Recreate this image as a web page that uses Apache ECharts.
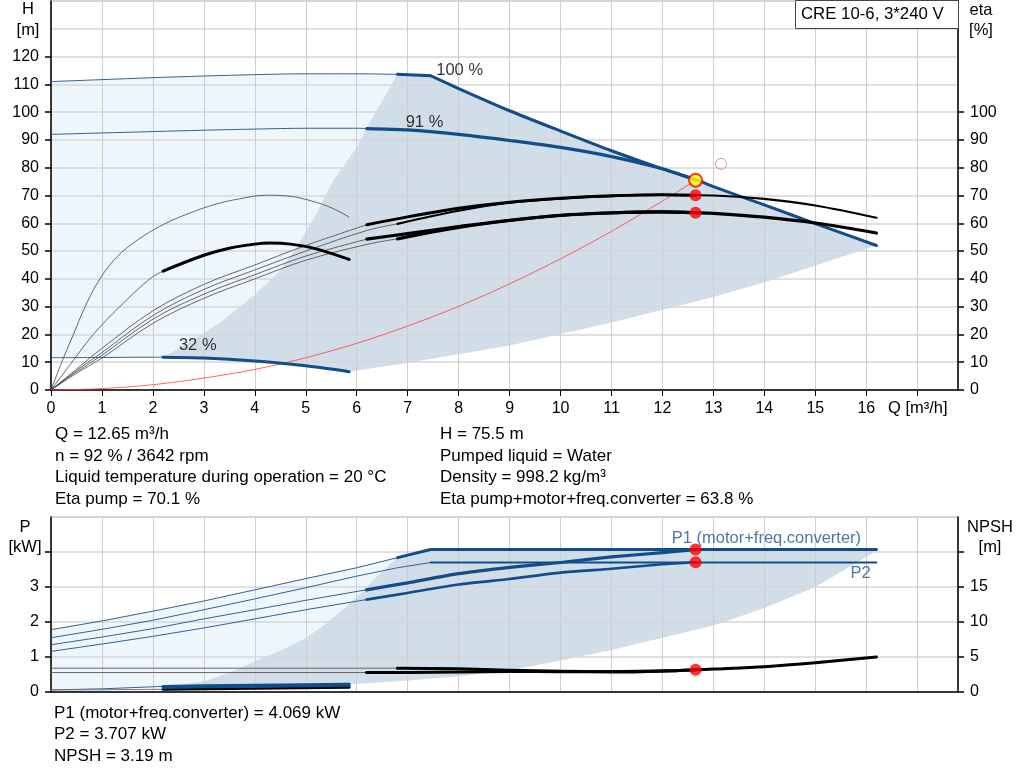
<!DOCTYPE html>
<html>
<head>
<meta charset="utf-8">
<script src="https://cdn.jsdelivr.net/npm/echarts@6/dist/echarts.min.js"></script>
<style>
html,body{margin:0;padding:0;background:#fff;}
#chart{width:1024px;height:781px;}
</style>
</head>
<body>
<div id="chart"></div>
<script>
// ---------------- data ----------------
const qTickLabels = [0,1,2,3,4,5,6,7,8,9,10,11,12,13,14,15,16];
const qTickMarks = [0,1,2,3,4,5,6,7,8,9,10,11,12,13,14,15,16,17];
const hTicks = [0,10,20,30,40,50,60,70,80,90,100,110,120];
const etaTicks = [0,10,20,30,40,50,60,70,80,90,100];
const pTickLabels = [0,1,2,3];
const pTickMarks = [0,1,2,3,4];
const npshTickLabels = [0,5,10,15];
const npshTickMarks = [0,5,10,15,20];

// Q-H curves
const q100 = [0,1,2,3,4,5,6,6.8,7.45,8,9,10,11,12,12.65,13,14,15,16.2];
const h100 = [111,111.7,112.4,113,113.5,113.8,113.8,113.6,113.1,108.5,100.5,93.2,86.1,79.6,75.8,73.2,66.6,59.9,52];
const q91 = [0,1,2,3,4,5,6,6.2,7,8,9,10,11,12,12.65];
const h91 = [92,92.5,93,93.5,93.9,94.2,94.2,94.1,93.6,92,89.8,87.3,84,79.6,75.5];
const q32 = [0,1,2,2.2,3,4,5,5.85];
const h32 = [11.6,11.7,11.8,11.8,11.5,10.4,8.7,6.6];

// efficiency curves (eta, %)
const qEtaPump32 = [0,0.21,0.44,0.67,0.96,1.3,1.7,2.2,2.7,3.2,3.7,4.25,4.6,5,5.5,5.85];
const etaPump32 = [0,10,20,30,40,48,54,59.5,63.5,66.7,68.8,70.1,69.9,68.6,65.6,62.2];
const qEtaTot32 = [0,0.41,0.83,1.35,1.94,2.2,3,3.5,4,4.3,4.7,5.2,5.85];
const etaTot32 = [0,10,20,30,40,42.8,48.5,51,52.5,52.9,52.5,50.8,47];
const qEtaPump91 = [0,0.5,1,2,3,4,5,6.2,7,8,9,10,11,12,12.65];
const etaPump91 = [0,7.5,15,28.5,38,45,52,59.5,62.3,65.4,67.6,69,69.9,70.3,70.1];
const qEtaPump100 = [0,0.5,1,2,3,4,5,6.2,6.8,8,9,10,11,12,12.65,13,14,15,16.2];
const etaPump100 = [0,7,13.5,26.8,36.2,43.2,50,57.4,59.8,64.5,67.4,68.9,69.8,70.2,70.1,70,68.8,66.4,62];
const qEtaTot91 = [0,0.5,1,2,3,4,5,6.2,7,8,9,10,11,12,12.65];
const etaTot91 = [0,6.5,12.5,25.5,34.5,41.5,48.2,54.3,56.3,58.8,61.1,62.9,63.8,64.1,63.8];
const qEtaTot100 = [0,0.5,1,2,3,4,5,6.2,6.8,8,9,10,11,12,12.65,13,14,15,16.2];
const etaTot100 = [0,6,11.5,24,33,40,46.7,52.4,54.4,58.5,61,62.8,63.7,64.1,63.8,63.6,62.2,60.1,56.5];

// system curve
const qSys = [0,1,2,3,4,5,6,7,8,9,10,11,12,12.65];
const hSys = [0,0.5,1.9,4.3,7.4,11.6,16.8,23,30.1,38.2,47.2,57.1,68,75.5];

// operating range (top chart)
const qRangeLeft = [2.2,2.8,3.38,4.03,4.5,4.82,5.21,5.54,6.0,6.19,6.5,6.8];
const hRangeLeft = [11.8,18,25.1,34.7,43,51.4,63.4,75.4,87.3,94.1,104,113.6];
const qRangeBottom = [5.85,7,9,11,13,14,15,16.2];
const hRangeBottom = [6.6,9.8,16,24.3,33.5,38.8,44.8,52];

// duty point
const dutyQ = 12.65;
const dutyH = 75.5;
const dutyEtaPump = 70.1;
const dutyEtaTot = 63.8;
const dutyP1 = 4.069;
const dutyP2 = 3.707;
const dutyNPSH = 3.19;
const refPoint = [13.15, 81.4];

// power curves (kW)
const qP100 = [0,1,2,3,4,5,6,6.8,7.45,9,11,13,15,16.2];
const p1_100 = [1.78,2.03,2.31,2.6,2.92,3.24,3.55,3.84,4.07,4.07,4.07,4.07,4.07,4.07];
const p2_100 = [1.55,1.79,2.05,2.35,2.66,2.98,3.31,3.55,3.70,3.70,3.70,3.70,3.70,3.70];
const qP91 = [0,1,2,3,4,5,6.19,7,8,9,10,11,12,12.65];
const p1_91 = [1.35,1.57,1.81,2.09,2.35,2.62,2.92,3.12,3.38,3.56,3.7,3.86,3.98,4.069];
const p2_91 = [1.16,1.37,1.59,1.83,2.09,2.35,2.64,2.83,3.07,3.23,3.41,3.52,3.65,3.707];
const qP32 = [0,1,2.2,3,4,5,5.85];
const p1_32 = [0.06,0.09,0.16,0.18,0.19,0.21,0.22];
const p2_32 = [0.05,0.07,0.13,0.15,0.16,0.18,0.19];

// operating range (power chart)
const qPRangeLeft = [2.2,3,3.5,4,4.5,5,5.4,5.8,6.1,6.4,6.8];
const pPRangeLeft = [0.16,0.3,0.55,0.87,1.18,1.54,1.95,2.45,2.85,3.3,3.84];
const qPRangeBottom = [5.85,7,8,9,10,11,12,13,14,15,16.2];
const pPRangeBottom = [0.22,0.33,0.45,0.62,0.9,1.2,1.55,1.9,2.4,3.0,4.03];

// NPSH curves (m)
const qN100 = [0,2,4,6.8,8,9,10,11,12,12.65,13,14,15,16.2];
const n100 = [3.4,3.4,3.4,3.4,3.32,3.12,2.98,2.92,3.02,3.17,3.28,3.62,4.18,5.0];
const qN91 = [0,2,4,6.19,7,8,9,10,11,12,12.65];
const n91 = [2.78,2.78,2.78,2.78,2.8,2.85,2.92,2.9,2.86,2.98,3.19];
const qN32 = [0,1,2.2,4,5.85];
const n32 = [0.3,0.32,0.39,0.52,0.67];

// curve labels
const headLabels = [[8.02,115.1,'100 %'],[7.33,96.2,'91 %'],[2.88,16.2,'32 %']];
const powerLabels = [[14.04,4.38,'P1 (motor+freq.converter)'],[15.89,3.39,'P2']];

// ---------------- helpers ----------------
const FONT = "'Liberation Sans', Arial, sans-serif";
const BLUE = '#104e8b';
const THINBLUE = '#2f6296';
const LIGHT = '#edf5fd';
const DARK = '#d1dde9';

function pairs(qs, vs) { return qs.map((q, i) => [q, vs[i]]); }
function seg(qs, vs, a, b) {
  const out = [];
  qs.forEach((q, i) => { if (q >= a - 1e-9 && q <= b + 1e-9) out.push([q, vs[i]]); });
  return out;
}
function line(data, xi, yi, color, width, smooth, z) {
  return {
    type: 'line', xAxisIndex: xi, yAxisIndex: yi, data: data,
    symbol: 'none', showSymbol: false, smooth: smooth, silent: true,
    lineStyle: { color: color, width: width, cap: 'round', join: 'round' },
    z: z || 3
  };
}
function poly(points, color, xi, yi) {
  return {
    type: 'custom', xAxisIndex: xi, yAxisIndex: yi, silent: true, z: -1,
    data: [[0, 0]],
    renderItem: function (params, api) {
      return {
        type: 'polygon',
        shape: { points: points.map(p => api.coord(p)) },
        style: { fill: color }
      };
    }
  };
}
function dots(data, xi, yi, size, style, z) {
  return { type: 'scatter', xAxisIndex: xi, yAxisIndex: yi, data: data, symbol: 'circle',
    symbolSize: size, itemStyle: style, silent: true, z: z || 10 };
}
function textLabels(data, xi, yi, color) {
  return { type: 'scatter', xAxisIndex: xi, yAxisIndex: yi, data: data, symbolSize: 0, silent: true, z: 12,
    label: { show: true, position: 'inside', formatter: p => p.data[2], color: color,
      fontSize: 16.5, fontFamily: FONT } };
}

// polygons
const curve100 = pairs(q100, h100);
const rangeBottom = pairs(qRangeBottom, hRangeBottom);
const curve32 = pairs(q32, h32);
const topLight = curve100.concat(rangeBottom.slice().reverse(), curve32.slice().reverse());
const topDark = pairs(qRangeLeft, hRangeLeft)
  .concat(seg(q100, h100, 6.8, 16.2), rangeBottom.slice().reverse(), seg(q32, h32, 2.2, 5.85).reverse());

const p1curve = pairs(qP100, p1_100);
const pBottom = pairs(qPRangeBottom, pPRangeBottom);
const p32curve = pairs(qP32, p1_32);
const botLight = p1curve.concat(pBottom.slice().reverse(), p32curve.slice().reverse());
const botDark = pairs(qPRangeLeft, pPRangeLeft)
  .concat(seg(qP100, p1_100, 6.8, 16.2), pBottom.slice().reverse(), seg(qP32, p1_32, 2.2, 5.85).reverse());

// ---------------- axes ----------------
const gridLineH = { show: true, lineStyle: { color: '#d6d6d6', width: 1.5 } };
function xAx(gi, withLabels) {
  return {
    gridIndex: gi, type: 'value', min: 0, max: 17.8, interval: 1, position: 'bottom',
    axisLine: { show: true, onZero: false, lineStyle: { color: '#000', width: 1.5 } },
    axisTick: { show: withLabels, length: 6, inside: false, customValues: qTickMarks, lineStyle: { color: '#000', width: 1 } },
    axisLabel: { show: withLabels, customValues: qTickLabels, color: '#000', fontSize: 16, fontFamily: FONT, margin: 11 },
    splitLine: { show: true, lineStyle: { color: '#cdcdcd', width: 1 } }
  };
}
function yAx(gi, pos, max, interval, tickMarks, tickLabels) {
  return {
    gridIndex: gi, type: 'value', min: 0, max: max, interval: interval, position: pos,
    axisLine: { show: true, onZero: false, lineStyle: { color: '#000', width: 1.5 } },
    axisTick: { show: true, length: 6, customValues: tickMarks, lineStyle: { color: '#000', width: 1.5 } },
    axisLabel: { show: true, customValues: tickLabels, color: '#000', fontSize: 16, fontFamily: FONT, margin: 12 },
    splitLine: { show: false }
  };
}
function yGrid(gi, max, interval) {
  return {
    gridIndex: gi, type: 'value', min: 0, max: max, interval: interval, position: 'left',
    axisLine: { show: false }, axisTick: { show: false }, axisLabel: { show: false },
    splitLine: gridLineH
  };
}

// ---------------- series ----------------
const series = [
  // shaded regions
  poly(topLight, LIGHT, 0, 0),
  poly(topDark, DARK, 0, 0),
  poly(botLight, LIGHT, 1, 3),
  poly(botDark, DARK, 1, 3),

  // system curve
  line(pairs(qSys, hSys), 0, 0, '#ff3c3c', 0.8, 0.3, 4),

  // Q-H curves
  line(seg(q100, h100, 0, 6.8), 0, 0, THINBLUE, 1, 0.3),
  line(seg(q100, h100, 6.8, 7.45), 0, 0, BLUE, 3, false, 5),
  line(seg(q100, h100, 7.45, 16.2), 0, 0, BLUE, 3, 0.25, 5),
  line(seg(q91, h91, 0, 6.2), 0, 0, THINBLUE, 1, 0.3),
  line(seg(q91, h91, 6.2, 12.65), 0, 0, BLUE, 3.2, 0.3, 5),
  line(seg(q32, h32, 0, 2.2), 0, 0, THINBLUE, 1, 0.3),
  line(seg(q32, h32, 2.2, 5.85), 0, 0, BLUE, 3, 0.3, 5),

  // efficiency curves
  line(pairs(qEtaPump32, etaPump32), 0, 0, '#444', 0.8, 0.4),
  line(seg(qEtaTot32, etaTot32, 0, 2.2), 0, 0, '#444', 0.8, 0.35),
  line(seg(qEtaTot32, etaTot32, 2.2, 5.85), 0, 0, '#000', 3, 0.35, 5),
  line(seg(qEtaPump91, etaPump91, 0, 6.2), 0, 0, '#444', 0.8, 0.35),
  line(seg(qEtaPump91, etaPump91, 6.2, 12.65), 0, 0, '#000', 3, 0.35, 5),
  line(seg(qEtaPump100, etaPump100, 0, 6.8), 0, 0, '#444', 0.8, 0.35),
  line(seg(qEtaPump100, etaPump100, 6.8, 16.2), 0, 0, '#000', 2.2, 0.35, 5),
  line(seg(qEtaTot91, etaTot91, 0, 6.2), 0, 0, '#444', 0.8, 0.35),
  line(seg(qEtaTot91, etaTot91, 6.2, 12.65), 0, 0, '#000', 3.2, 0.35, 5),
  line(seg(qEtaTot100, etaTot100, 0, 6.8), 0, 0, '#444', 0.8, 0.35),
  line(seg(qEtaTot100, etaTot100, 6.8, 16.2), 0, 0, '#000', 3.2, 0.35, 5),

  // power curves
  line(seg(qP100, p1_100, 0, 6.8), 1, 3, THINBLUE, 1, false),
  line(seg(qP100, p1_100, 6.8, 16.2), 1, 3, BLUE, 3, false, 5),
  line(seg(qP100, p2_100, 0, 7.45), 1, 3, THINBLUE, 1, false),
  line(seg(qP100, p2_100, 7.45, 16.2), 1, 3, BLUE, 1.8, false, 5),
  line(seg(qP91, p1_91, 0, 6.19), 1, 3, THINBLUE, 1, false),
  line(seg(qP91, p1_91, 6.19, 12.65), 1, 3, BLUE, 3.2, 0.2, 5),
  line(seg(qP91, p2_91, 0, 6.19), 1, 3, THINBLUE, 1, false),
  line(seg(qP91, p2_91, 6.19, 12.65), 1, 3, BLUE, 2.6, 0.2, 5),
  line(seg(qP32, p1_32, 0, 2.2), 1, 3, THINBLUE, 1, false),
  line(seg(qP32, p1_32, 2.2, 5.85), 1, 3, BLUE, 3, false, 6),
  line(seg(qP32, p2_32, 2.2, 5.85), 1, 3, BLUE, 3, false, 6),

  // NPSH curves
  line(seg(qN100, n100, 0, 6.8), 1, 4, '#666', 1, false),
  line(seg(qN100, n100, 6.8, 16.2), 1, 4, '#000', 3, 0.3, 5),
  line(seg(qN91, n91, 0, 6.19), 1, 4, '#666', 1, false),
  line(seg(qN91, n91, 6.19, 12.65), 1, 4, '#000', 3, 0.3, 5),
  line(seg(qN32, n32, 0, 2.2), 1, 4, '#777', 1, false),
  line(seg(qN32, n32, 2.2, 5.85), 1, 4, '#000', 3, false, 5),

  // duty point markers
  dots([refPoint], 0, 0, 11, { color: 'rgba(0,0,0,0)', borderColor: '#f07070', borderWidth: 1 }),
  dots([[dutyQ, dutyEtaPump], [dutyQ, dutyEtaTot]], 0, 0, 12, { color: '#ff0000' }),
  dots([[dutyQ, dutyH]], 0, 0, 13, { color: '#ffff00', borderColor: '#ff0000', borderWidth: 2 }, 11),
  dots([[dutyQ, dutyP1], [dutyQ, dutyP2]], 1, 3, 12, { color: '#ff0000' }),
  dots([[dutyQ, dutyNPSH]], 1, 4, 12, { color: '#ff0000' }),

  // labels
  textLabels(headLabels, 0, 0, '#000'),
  textLabels(powerLabels, 1, 3, '#1a5490')
];

// ---------------- texts ----------------
function txt(x, y, s, align, size) {
  return { type: 'text', x: x, y: y, z: 100,
    style: { text: s, fill: '#000', fontSize: size || 17, fontFamily: FONT,
      align: align || 'left', verticalAlign: 'middle' } };
}
const infoLeft = ['Q = 12.65 m³/h', 'n = 92 % / 3642 rpm', 'Liquid temperature during operation = 20 °C', 'Eta pump = 70.1 %'];
const infoRight = ['H = 75.5 m', 'Pumped liquid = Water', 'Density = 998.2 kg/m³', 'Eta pump+motor+freq.converter = 63.8 %'];
const infoBottom = ['P1 (motor+freq.converter) = 4.069 kW', 'P2 = 3.707 kW', 'NPSH = 3.19 m'];

const graphics = [
  { type: 'rect', z: 99, shape: { x: 795.5, y: 0.5, width: 163, height: 28 },
    style: { fill: '#fff', stroke: '#444', lineWidth: 1 } },
  txt(801, 14.5, 'CRE 10-6, 3*240 V', 'left', 16.8),
  txt(28, 9.5, 'H', 'center', 16.5), txt(28, 30, '[m]', 'center', 16.5),
  txt(981, 10, 'eta', 'center', 16.5), txt(981, 30, '[%]', 'center', 16.5),
  txt(25, 527, 'P', 'center', 16.5), txt(25, 547, '[kW]', 'center', 16.5),
  txt(990, 527, 'NPSH', 'center', 16.5), txt(990, 547, '[m]', 'center', 16.5),
  txt(888, 408.5, 'Q [m³/h]', 'left', 16.5)
];
infoLeft.forEach((s, i) => graphics.push(txt(55, 434.5 + i * 21.5, s)));
infoRight.forEach((s, i) => graphics.push(txt(440, 434.5 + i * 21.5, s)));
infoBottom.forEach((s, i) => graphics.push(txt(54, 713 + i * 21.6, s)));

const option = {
  animation: false,
  backgroundColor: '#fff',
  textStyle: { fontFamily: FONT },
  grid: [
    { left: 51, right: 66, top: 1, height: 389, show: true, borderColor: '#a8a8a8', borderWidth: 1, backgroundColor: 'transparent' },
    { left: 51, right: 66, top: 517, height: 175, show: true, borderColor: '#a8a8a8', borderWidth: 1, backgroundColor: 'transparent' }
  ],
  xAxis: [xAx(0, true), xAx(1, false)],
  yAxis: [
    yAx(0, 'left', 140, 10, hTicks, hTicks),
    yAx(0, 'right', 140, 10, etaTicks, etaTicks),
    yGrid(0, 140, 10),
    yAx(1, 'left', 5, 1, pTickMarks, pTickLabels),
    yAx(1, 'right', 25, 5, npshTickMarks, npshTickLabels),
    yGrid(1, 5, 1)
  ],
  series: series,
  graphic: graphics
};

const chart = echarts.init(document.getElementById('chart'), null, { renderer: 'canvas' });
chart.setOption(option);
</script>
</body>
</html>
